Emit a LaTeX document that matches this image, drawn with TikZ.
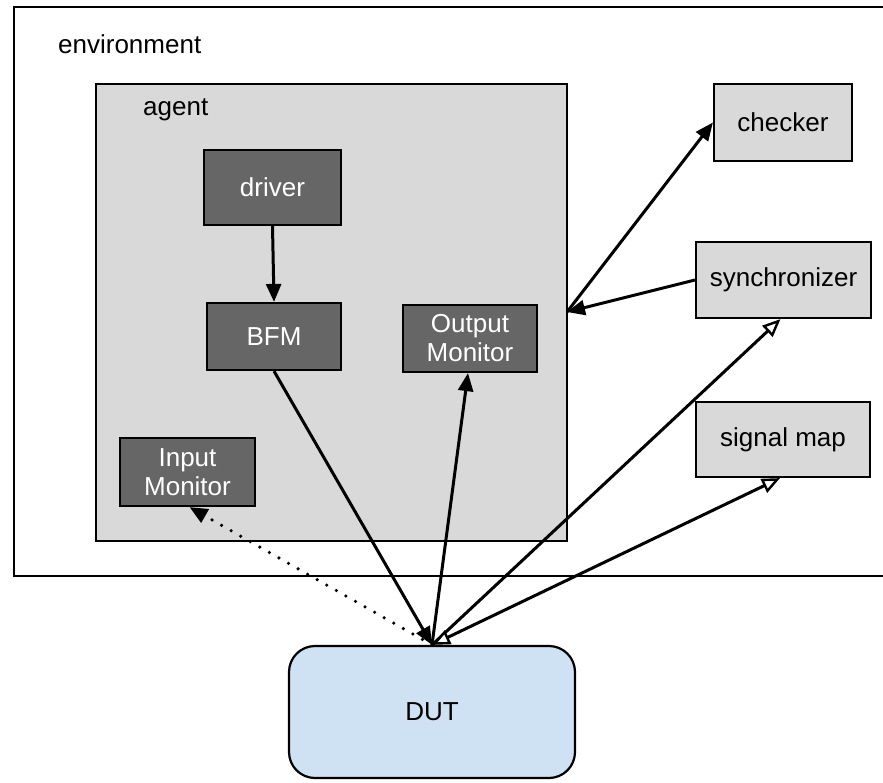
\documentclass[tikz,border=0pt]{standalone}
\usepackage{fontspec}
\setmainfont{Liberation Sans}
\usetikzlibrary{arrows.meta}
\definecolor{agentgray}{HTML}{D9D9D9}
\definecolor{blockgray}{HTML}{666666}
\definecolor{dutblue}{HTML}{CFE2F3}
\tikzset{
  ftip/.tip={Triangle[length=18pt,width=15pt]},
  otip/.tip={Triangle[open,length=18pt,width=15pt,fill=white,line width=2.4pt]}
}
\begin{document}
\begin{tikzpicture}[x=1pt,y=-1pt,
  every node/.style={font=\fontsize{26}{29}\selectfont, inner sep=0pt},
  frame/.style={draw=black, line width=2.2pt},
  block/.style={frame, fill=blockgray, text=white, align=center},
  sidebox/.style={frame, fill=agentgray, text=black},
  conn/.style={line width=3pt}
]
\useasboundingbox (0,0) rectangle (883,782);
\clip (0,0) rectangle (883,782);

% environment and agent frames
\draw[frame, fill=white] (14,7) rectangle (900,576);
\node[anchor=west] (envlabel) at (58,44) {environment};
\draw[frame, fill=agentgray] (96,84) rectangle (567,541);
\node[anchor=west] (agentlabel) at (143,110) {agent};
\coordinate (agentport) at (567,312);

% agent blocks
\node[block, minimum width=137pt, minimum height=75pt] (drv) at (272.5,187.5) {driver};
\node[block, minimum width=134pt, minimum height=67pt] (bfm) at (274,336.5) {BFM};
\node[block, minimum width=134pt, minimum height=67pt] (om) at (470,338.5) {Output\\Monitor};
\node[block, minimum width=135pt, minimum height=68pt] (im) at (187.5,472) {Input\\Monitor};

% environment components
\node[sidebox, minimum width=138pt, minimum height=77pt] (ck) at (783,122.5) {checker};
\node[sidebox, minimum width=175pt, minimum height=76pt] (sync) at (783.5,280) {synchronizer};
\node[sidebox, minimum width=174pt, minimum height=75pt] (smap) at (783,439.5) {signal map};

% device under test
\node[frame, fill=dutblue, rounded corners=26pt, minimum width=286pt, minimum height=132pt] (dut) at (432,712) {DUT};

% connectors
\draw[conn, -ftip] (drv.south) -- (bfm.north);
\draw[conn, -ftip] (bfm.south) -- (dut.north);
\draw[conn, -ftip] (dut.north) -- ([xshift=-2pt]om.south);
\draw[conn, -ftip, line cap=round, dash pattern=on 0pt off 11pt, line width=3.6pt] (dut.north) -- ([xshift=2pt]im.south);
\draw[conn, -ftip] (agentport) -- (ck.west);
\draw[conn, -ftip] (sync.west) -- (agentport);
\draw[conn, -otip] (dut.north) -- ([xshift=-3pt]sync.south);
\draw[conn, otip-otip] (dut.north) -- ([xshift=-3pt]smap.south);
\end{tikzpicture}
\end{document}
